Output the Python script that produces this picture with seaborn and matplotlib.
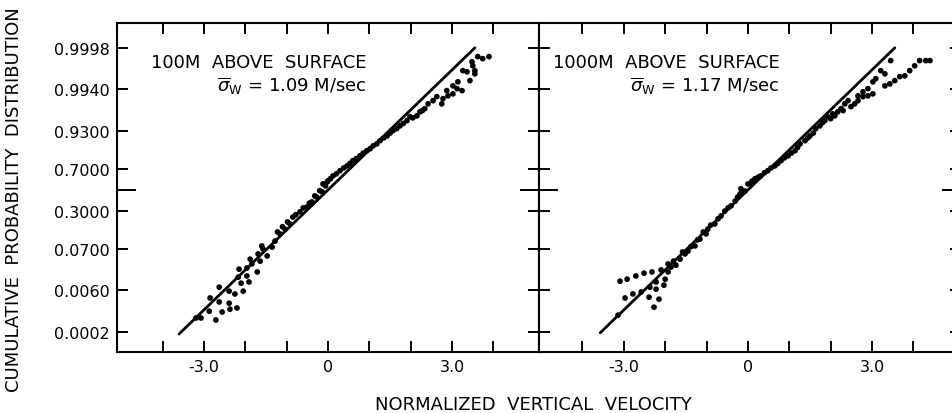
import matplotlib
matplotlib.use("Agg")
import matplotlib.pyplot as plt
import seaborn as sns
from statistics import NormalDist

# Normalized vertical velocity (w / sigma_w) and the standard-normal score of
# its cumulative probability, plotted on normal probability paper.
vel_100m = [
    -3.19, -3.07, -2.87, -2.85, -2.71, -2.63, -2.63, -2.56, -2.39, -2.39,
    -2.37, -2.25, -2.20, -2.17, -2.15, -2.10, -2.05, -1.96, -1.96, -1.91,
    -1.88, -1.84, -1.71, -1.69, -1.64, -1.57, -1.47, -1.35, -1.28, -1.16,
    -1.04, -0.92, -0.85, -0.68, -0.51, -0.39, -0.27, -0.14, -0.12, -0.02,
    -1.60, -1.22, -1.10, -0.98, -0.78, -0.60, -0.45, -0.32, -0.20, -0.06,
    0.00, 0.12, 0.29, 0.46, 0.60, 0.77, 0.94, 1.09, 1.26, 1.43,
    1.57, 1.74, 1.91, 1.98, 2.15, 2.22, 2.34, 2.42, 2.54, 2.63,
    2.75, 2.78, 2.87, 2.90, 3.02, 3.02, 3.12, 3.14, 3.24, 3.26,
    3.36, 3.43, 3.48, 3.50, 3.55, 3.55, 3.62, 3.74, 3.89,
    0.06, 0.20, 0.38, 0.53, 0.68, 0.85, 1.02, 1.18, 1.35, 1.50,
    1.66, 1.82, 2.05, 2.28,
]
score_100m = [
    -3.20, -3.20, -3.03, -2.70, -3.25, -2.80, -2.43, -3.05, -2.83, -2.53,
    -2.98, -2.60, -2.95, -2.18, -1.98, -2.33, -2.53, -2.15, -1.95, -2.30,
    -1.73, -1.85, -2.05, -1.60, -1.78, -1.48, -1.65, -1.43, -1.28, -1.10,
    -0.98, -0.85, -0.68, -0.55, -0.43, -0.30, -0.18, -0.05, 0.15, 0.20,
    -1.40, -1.05, -0.92, -0.80, -0.62, -0.45, -0.33, -0.15, -0.02, 0.10,
    0.23, 0.35, 0.48, 0.60, 0.73, 0.85, 0.98, 1.10, 1.23, 1.35,
    1.48, 1.60, 1.73, 1.83, 1.85, 1.95, 2.03, 2.15, 2.23, 2.33,
    2.15, 2.28, 2.48, 2.35, 2.40, 2.60, 2.53, 2.70, 2.48, 2.98,
    2.95, 2.73, 3.20, 3.10, 2.98, 2.90, 3.33, 3.28, 3.33,
    0.28, 0.40, 0.55, 0.66, 0.78, 0.92, 1.03, 1.15, 1.30, 1.42,
    1.53, 1.66, 1.80, 1.98,
]

vel_1000m = [
    -3.14, -3.09, -2.97, -2.92, -2.78, -2.71, -2.58, -2.51, -2.39, -2.37,
    -2.32, -2.27, -2.22, -2.22, -2.15, -2.10, -2.03, -2.00, -1.93, -1.93,
    -1.86, -1.74, -1.64, -1.52, -1.45, -1.28, -1.16, -1.01, -0.97, -0.80,
    -0.65, -0.56, -0.41, -0.31, -0.19, -0.07,
    -1.80, -1.58, -1.38, -1.22, -1.08, -0.90, -0.72, -0.48, -0.25, -0.12,
    -0.17, 0.00, 0.07, 0.17, 0.31, 0.48, 0.65, 0.80, 0.97, 1.14,
    1.26, 1.38, 1.50, 1.64, 1.74, 1.86, 1.93, 2.00, 2.05, 2.17,
    2.25, 2.34, 2.42, 2.49, 2.58, 2.66, 2.66, 2.78, 2.78, 2.90,
    2.90, 3.02, 3.02, 3.09, 3.21, 3.31, 3.31, 3.43, 3.45, 3.55,
    3.67, 3.79, 3.91, 4.03, 4.15, 4.30, 4.40,
    0.10, 0.25, 0.40, 0.56, 0.72, 0.88, 1.05, 1.20, 1.45, 1.58,
    1.80, 2.10, 2.30,
]
score_1000m = [
    -3.13, -2.28, -2.70, -2.23, -2.60, -2.15, -2.55, -2.08, -2.68, -2.43,
    -2.05, -2.93, -2.30, -2.48, -2.73, -2.00, -2.38, -2.23, -2.05, -1.85,
    -1.93, -1.88, -1.73, -1.60, -1.53, -1.40, -1.23, -1.10, -0.98, -0.85,
    -0.65, -0.53, -0.40, -0.28, -0.10, -0.03,
    -1.78, -1.55, -1.42, -1.25, -1.05, -0.88, -0.72, -0.45, -0.18, -0.05,
    0.03, 0.15, 0.15, 0.28, 0.35, 0.48, 0.60, 0.73, 0.85, 0.98,
    1.15, 1.23, 1.35, 1.53, 1.60, 1.73, 1.83, 1.78, 1.90, 1.95,
    2.03, 2.15, 2.23, 2.08, 2.15, 2.23, 2.35, 2.33, 2.45, 2.35,
    2.53, 2.40, 2.70, 2.78, 2.98, 2.90, 2.60, 2.65, 3.23, 2.73,
    2.83, 2.85, 2.98, 3.10, 3.23, 3.23, 3.23,
    0.22, 0.32, 0.43, 0.55, 0.66, 0.80, 0.92, 1.06, 1.30, 1.42,
    1.68, 1.85, 1.98,
]

# Gaussian reference: the normal score equals the normalized velocity
gauss_100m = [-3.60, 3.55]
gauss_1000m = [-3.57, 3.55]

prob_ticks = [0.0002, 0.0060, 0.0700, 0.3000, 0.7000, 0.9300, 0.9940, 0.9998]
prob_labels = ["0.0002", "0.0060", "0.0700", "0.3000",
               "0.7000", "0.9300", "0.9940", "0.9998"]
vel_ticks = [-4, -3, -2, -1, 0, 1, 2, 3, 4]
vel_labels = ["", "-3.0", "", "", "0", "", "", "3.0", ""]

panel_titles = ["100M  ABOVE  SURFACE", "1000M  ABOVE  SURFACE"]
sigma_text = [r"$\overline{\sigma}_{\mathrm{W}}$ = 1.09 M/sec",
              r"$\overline{\sigma}_{\mathrm{W}}$ = 1.17 M/sec"]

sns.set_style("ticks")
plt.rcParams["font.family"] = ["DejaVu Sans"]
plt.rcParams.update({
    "text.color": "black",
    "axes.labelcolor": "black",
    "axes.edgecolor": "black",
    "xtick.color": "black",
    "ytick.color": "black",
    "axes.linewidth": 1.5,
})

normal = NormalDist()
score_ticks = [normal.inv_cdf(p) for p in prob_ticks]

fig = plt.figure(figsize=(9.53, 4.14), dpi=100)
W, H = 953.0, 414.0
ax_w = 422.0
ax_l = fig.add_axes([117 / W, 61 / H, ax_w / W, 329 / H])
ax_r = fig.add_axes([539 / W, 61 / H, ax_w / W, 329 / H])

panels = [
    (ax_l, vel_100m, score_100m, gauss_100m, (-5.10, 5.10), 0.592),
    (ax_r, vel_1000m, score_1000m, gauss_1000m, (-5.05, 5.15), 0.571),
]

for i, (ax, xv, zv, gline, xlim, text_x) in enumerate(panels):
    sns.lineplot(x=gline, y=gline, ax=ax, color="black", linewidth=2.0,
                 estimator=None, sort=False)
    sns.scatterplot(x=xv, y=zv, ax=ax, color="black", s=17,
                    edgecolor="none", linewidth=0)
    ax.set_xlim(*xlim)
    ax.set_ylim(-4.05, 4.17)
    ax.set_xticks(vel_ticks)
    ax.set_xticklabels(vel_labels)
    ax.set_yticks(score_ticks)
    ax.set_yticks([0.0], minor=True)
    if i == 0:
        ax.set_yticklabels(prob_labels)
    else:
        ax.set_yticklabels([])
    ax.tick_params(axis="both", which="major", direction="in", length=8,
                   width=1.4, top=True, right=True, labelsize=11.5, pad=5,
                   colors="black")
    ax.tick_params(axis="y", which="minor", direction="in", length=14,
                   width=1.4, left=True, right=True)
    ax.tick_params(axis="x", which="minor", bottom=False, top=False)
    for sp in ax.spines.values():
        sp.set_visible(True)
        sp.set_color("black")
        sp.set_linewidth(1.5)
    ax.set_xlabel("")
    ax.set_ylabel("")
    ax.text(text_x, 0.866, panel_titles[i], transform=ax.transAxes,
            ha="right", va="baseline", fontsize=13, color="black")
    ax.text(text_x, 0.793, sigma_text[i], transform=ax.transAxes,
            ha="right", va="baseline", fontsize=13, color="black")

fig.text(533 / W, 4 / H, "NORMALIZED  VERTICAL  VELOCITY",
         ha="center", va="baseline", fontsize=13, color="black")
fig.text(14 / W, 0.517, "CUMULATIVE  PROBABILITY  DISTRIBUTION",
         ha="center", va="center", rotation=90, fontsize=13, color="black")

fig.savefig("out.png", dpi=100, facecolor="white")
